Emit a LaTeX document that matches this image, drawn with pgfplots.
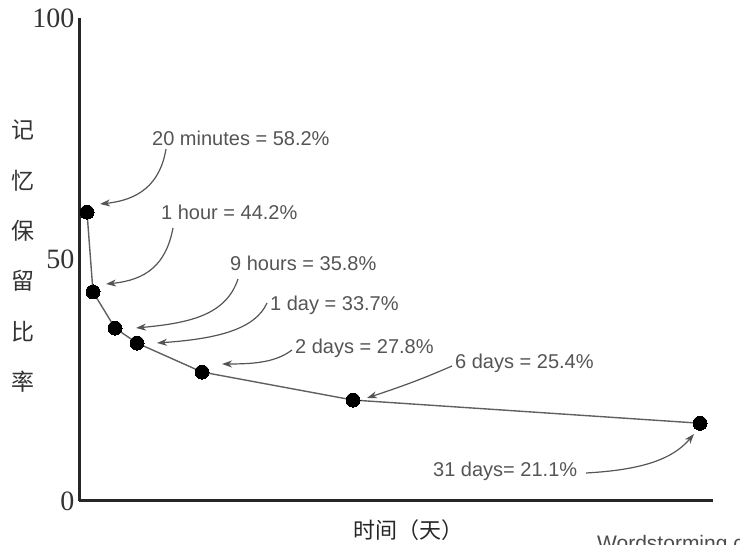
\documentclass[border=0pt]{standalone}
\usepackage{fontspec}
\setmainfont{Liberation Sans}
\newfontfamily\tickfont{Liberation Serif}
\newfontfamily\cjk{Noto Sans CJK SC}
\usepackage{pgfplots}
\usepackage{pgfplotstable}
\pgfplotsset{compat=1.18}
\usetikzlibrary{arrows.meta}

\definecolor{ink}{HTML}{555555}
\definecolor{curve}{HTML}{606060}

% retention curve, x in arbitrary time units
\pgfplotstableread{
x    y
8    59.8
14   43.3
36   35.8
58   32.7
123  26.7
274  20.9
621  16.1
}\retention

\begin{document}
\begin{tikzpicture}
\useasboundingbox (0,0) rectangle (740pt,545pt);
\begin{axis}[
    at={(79pt,44pt)}, anchor=south west,
    scale only axis, width=634pt, height=483pt,
    xmin=0, xmax=634, ymin=0, ymax=100,
    axis lines=left,
    axis line style={-, line width=3pt, black!85},
    xtick=\empty, ytick={0,50,100},
    major tick length=0pt,
    yticklabel style={font=\tickfont\fontsize{28}{28}\selectfont, text=black!80, xshift=-1pt},
    /pgf/number format/assume math mode=true,
    clip=false,
]
\addplot[curve, line width=1.4pt, mark=*, mark size=7pt,
    mark options={fill=black, draw=black, line width=0pt}] table {\retention};
\end{axis}

\begin{scope}[x=1pt, y=-1pt, yshift=545pt]
  % y label, one character per line
  \foreach \c [count=\i] in {记,忆,保,留,比,率}
    \node[font=\cjk\fontsize{23}{23}\selectfont, text=black!80] at (23, {130+50.4*(\i-1)}) {\c};
  \node[font=\cjk\fontsize{22}{22}\selectfont, text=black!85] at (408,530) {时间（天）};
  \node[anchor=north west, inner sep=0pt, text=black!70, font=\fontsize{21}{21}\selectfont] at (597,535) {Wordstorming.com};

  \tikzset{lab/.style={anchor=west, inner sep=0pt, text=ink, font=\fontsize{20}{20}\selectfont},
           arr/.style={draw=ink, line width=1.2pt, -{Stealth[length=10pt,width=7pt,inset=3pt]}}}
  \node[lab] at (152,138) {20 minutes = 58.2\%};
  \node[lab] at (161,212) {1 hour = 44.2\%};
  \node[lab] at (230,263) {9 hours = 35.8\%};
  \node[lab] at (270,305) {1 day = 33.7\%};
  \node[lab] at (295,348) {2 days = 27.8\%};
  \node[lab] at (455,363) {6 days = 25.4\%};
  \node[lab] at (433,471) {31 days= 21.1\%};

  \draw[arr] (166,149) .. controls (160,185) and (138,200) .. (100,204);
  \draw[arr] (173,228) .. controls (166,265) and (146,280) .. (106,284);
  \draw[arr] (238,279) .. controls (226,315) and (190,323) .. (136,328);
  \draw[arr] (267,303) .. controls (255,330) and (215,339) .. (157,343);
  \draw[arr] (292,350) .. controls (276,362) and (256,364) .. (222,364);
  \draw[arr] (452,366) .. controls (420,380) and (400,387) .. (367,398);
  \draw[arr] (586,473) .. controls (640,470) and (672,460) .. (694,434);
\end{scope}
\end{tikzpicture}
\end{document}
